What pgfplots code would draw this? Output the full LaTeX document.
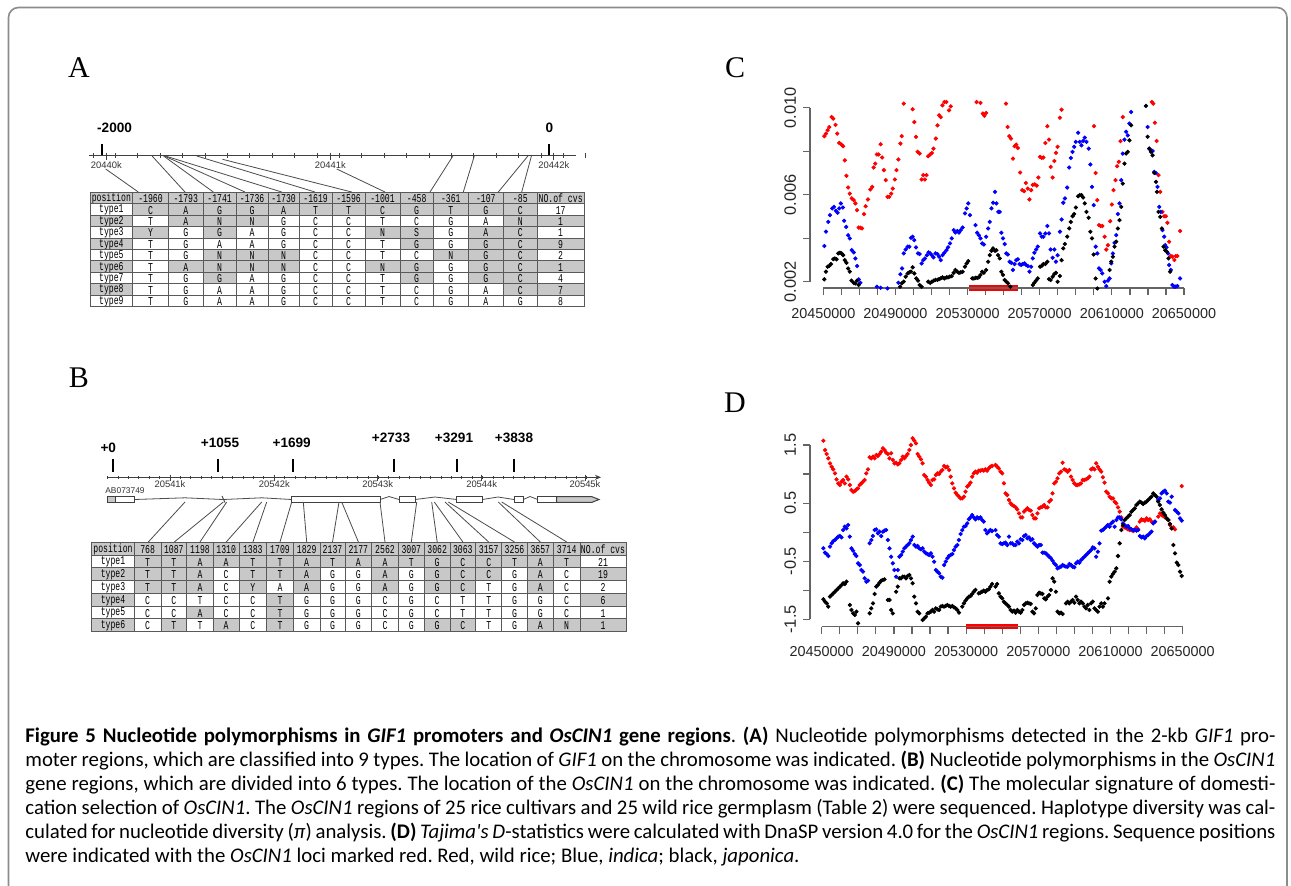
\documentclass[border=0pt]{standalone}
\usepackage{fontspec}
\setmainfont{Liberation Serif}
\newfontfamily\arial{Liberation Sans}
\newfontfamily\mono[FakeStretch=0.68]{Liberation Mono}
\newfontfamily\capfont{Carlito}
\usepackage{pgfplots}
\pgfplotsset{compat=1.18}
\usetikzlibrary{arrows.meta}
\definecolor{gy}{RGB}{200,200,200}
\definecolor{wh}{RGB}{255,255,255}
\definecolor{framegray}{RGB}{140,140,140}
\definecolor{axgray}{RGB}{100,100,100}

\newcommand\tabfontA{\mono\fontsize{6}{6}\selectfont}
\def\AX{{90,132.7,168.3,203.3,236,268.3,299,332.3,365,400,433.3,468.3,503.3,537.3,584}}
\def\BX{{91.7,134.3,161,186.7,213.3,239,266.7,293.3,320,345,371.7,398.3,424.3,450,475.7,501.7,527.3,553.3,580,626}}
\newcommand\Acell[4]{%
  \pgfmathsetmacro\xl{\AX[#1]}%
  \pgfmathsetmacro\xr{\AX[#1+1]}%
  \pgfmathsetmacro\yt{192.3+11.44*#2}%
  \pgfmathsetmacro\yb{\yt+11.44}%
  \fill[#4] (\xl,\yt) rectangle (\xr,\yb);
  \node[font=\tabfontA, inner sep=0pt] at ({(\xl+\xr)/2},{(\yt+\yb)/2+0.6}) {#3};
}
\newcommand\Arow[2]{\foreach \tx/\fl [count=\cc from 0] in {#2} {\Acell{\cc}{#1}{\tx}{\fl}}}
\newcommand\Bcell[4]{%
  \pgfmathsetmacro\xl{\BX[#1]}%
  \pgfmathsetmacro\xr{\BX[#1+1]}%
  \pgfmathsetmacro\yt{542.3+12.77*#2}%
  \pgfmathsetmacro\yb{\yt+12.77}%
  \fill[#4] (\xl,\yt) rectangle (\xr,\yb);
  \node[font=\tabfontA, inner sep=0pt] at ({(\xl+\xr)/2},{(\yt+\yb)/2+0.6}) {#3};
}
\newcommand\Brow[2]{\foreach \tx/\fl [count=\cc from 0] in {#2} {\Bcell{\cc}{#1}{\tx}{\fl}}}

\pgfplotsset{
  rstyle/.style={
    scale only axis, width=190pt,
    axis lines*=left, axis line style={draw=none},
    scaled ticks=false,
    tick align=outside, major tick length=3.5pt,
    tick style={axgray, line width=0.6pt},
    clip=false,
    tick label style={font=\arial\fontsize{7.2}{8}\selectfont, text=black!85},
    yticklabel style={rotate=90, anchor=south, font=\arial\fontsize{8.2}{9}\selectfont},
    xticklabel style={anchor=north, yshift=-3pt},
    xtick={20450000,20460000,20470000,20480000,20490000,20500000,20510000,20520000,20530000,20540000,20550000,20560000,20570000,20580000,20590000,20600000,20610000,20620000,20630000,20640000,20650000},
    xticklabels={20450000,,,,20490000,,,,20530000,,,,20570000,,,,20610000,,,,20650000},
  },
  rdot/.style={only marks, mark=*, mark size=0.85pt, #1, mark options={draw=#1, fill=#1}},
}

\begin{document}
\begin{tikzpicture}
\useasboundingbox (0,0) rectangle (645.5pt,-442.5pt);
\begin{scope}[x=0.5pt,y=-0.5pt]
  \fill[white] (0,0) rectangle (1291,885);
  \draw[framegray, line width=0.8pt, rounded corners=5pt] (8.5,905) -- (8.5,7.5) -- (1287,7.5) -- (1287,905);
  % panel letters
  \node[font=\fontsize{15}{15}\selectfont] at (79,68) {A};
  \node[font=\fontsize{15}{15}\selectfont] at (79,378) {B};
  \node[font=\fontsize{15}{15}\selectfont] at (735,68) {C};
  \node[font=\fontsize{15}{15}\selectfont] at (735,403) {D};

  % ---------------- Panel A ruler
  \node[font=\arial\bfseries\fontsize{6.8}{7}\selectfont] at (114.6,128) {-2000};
  \node[font=\arial\bfseries\fontsize{6.8}{7}\selectfont] at (549.3,128) {0};
  \draw[black, line width=1pt] (102.1,144) -- (102.1,154.6);
  \draw[black, line width=1pt] (548.6,144) -- (548.6,154.6);
  \draw[black!75, line width=0.5pt] (89.3,155.4) -- (576.1,155.4);
  \foreach \k in {-0.6,0.4,...,21.4} \draw[black!75, line width=0.4pt] ({106.4+22.4*\k},153.4) -- ({106.4+22.4*\k},157.6);
  \foreach \xx/\lab in {106.4/20440k,330.4/20441k,553.9/20442k} {
    \draw[black!75, line width=0.5pt] (\xx,152.5) -- (\xx,160);
    \node[font=\arial\fontsize{4.7}{5}\selectfont, text=black!80] at (\xx,165.4) {\lab};
  }
  \foreach \sx/\sy/\ex in {105.7/169/138.3,152.1/156/185,163.6/156/213.3,164.3/156/245,165.4/156/281.7,196.8/156/315,222.5/159.3/351.7,336.8/169/385,452.9/156/430,474.3/156/463.3,527.9/156/498.3,531.4/156/521.7}
    \draw[black!70, line width=0.4pt] (\sx,\sy) -- (\ex,192);
  % ---------------- Table A
  \Arow{0}{position/gy,-1960/gy,-1793/gy,-1741/gy,-1736/gy,-1730/gy,-1619/gy,-1596/gy,-1001/gy,-458/gy,-361/gy,-107/gy,-85/gy,NO.of cvs/gy}
  \Arow{1}{type1/wh,C/gy,A/gy,G/gy,G/gy,A/gy,T/gy,T/gy,C/gy,G/gy,T/gy,G/gy,C/gy,17/wh}
  \Arow{2}{type2/gy,T/wh,A/gy,N/gy,N/gy,G/wh,C/wh,C/wh,T/wh,C/wh,G/wh,A/wh,N/gy,1/gy}
  \Arow{3}{type3/wh,Y/gy,G/wh,G/gy,A/wh,G/wh,C/wh,C/wh,N/gy,S/gy,G/wh,A/gy,C/gy,1/wh}
  \Arow{4}{type4/gy,T/wh,G/wh,A/wh,A/wh,G/wh,C/wh,C/wh,T/wh,G/gy,G/wh,G/gy,C/gy,9/gy}
  \Arow{5}{type5/wh,T/wh,G/wh,N/gy,N/gy,N/gy,C/wh,C/wh,T/wh,C/wh,N/gy,G/gy,C/gy,2/wh}
  \Arow{6}{type6/gy,T/wh,A/gy,N/gy,N/gy,N/gy,C/wh,C/wh,N/gy,G/gy,G/wh,G/gy,C/gy,1/gy}
  \Arow{7}{type7/wh,T/wh,G/wh,G/gy,A/wh,G/wh,C/wh,C/wh,T/wh,G/gy,G/wh,G/gy,C/gy,4/wh}
  \Arow{8}{type8/gy,T/wh,G/wh,A/wh,A/wh,G/wh,C/wh,C/wh,T/wh,C/wh,G/wh,A/wh,C/gy,7/gy}
  \Arow{9}{type9/wh,T/wh,G/wh,A/wh,A/wh,G/wh,C/wh,C/wh,T/wh,C/wh,G/wh,A/wh,G/wh,8/wh}
  \foreach \r in {0,...,10} \draw[black!65, line width=0.45pt] (90,{192.3+11.44*\r}) -- (584,{192.3+11.44*\r});
  \foreach \c in {0,...,14} {\pgfmathsetmacro\xx{\AX[\c]} \draw[black!65, line width=0.45pt] (\xx,192.3) -- (\xx,306.7);}

  % ---------------- Panel B ruler
  \foreach \lx/\ly/\tx/\lab in {108.3/448.3/113.3/+0,220/443.3/217.7/+1055,291.7/443.3/293.3/+1699,391/438.3/394/+2733,454/438.3/457.3/+3291,514/438.3/514/+3838} {
    \node[font=\arial\bfseries\fontsize{6.8}{7}\selectfont] at (\lx,\ly) {\lab};
    \draw[black, line width=1pt] (\tx,459) -- (\tx,472.3);
  }
  \draw[black!75, line width=0.5pt, -{Stealth[length=3pt,width=2.5pt]}] (106.7,477.3) -- (601,477.3);
  \foreach \k in {-6,...,40} \draw[black!75, line width=0.4pt] ({170+10.42*\k},475.8) -- ({170+10.42*\k},478.8);
  \foreach \xx/\lab in {170/20541k,274.3/20542k,377.7/20543k,481.7/20544k,585/20545k} {
    \draw[black!75, line width=0.5pt] (\xx,474.5) -- (\xx,480.5);
    \node[font=\arial\fontsize{4.7}{5}\selectfont, text=black!80] at (\xx,484.5) {\lab};
  }
  \node[font=\arial\fontsize{4.2}{4.5}\selectfont, text=black!80] at (125,491) {AB073749};
  % gene model
  \draw[black!70, line width=0.4pt] (134.3,499.5) -- (185,497.8) -- (223,499.5) -- (262,497.8) -- (291.7,499.5);
  \draw[black!70, line width=0.4pt] (380,499.5) -- (389,496.5) -- (399,499.5);
  \draw[black!70, line width=0.4pt] (415,499.5) -- (435,497) -- (456.7,499.5);
  \draw[black!70, line width=0.4pt] (482.3,499.5) -- (498,497) -- (514,499.5);
  \draw[black!70, line width=0.4pt] (523.3,499.5) -- (530,496.5) -- (537.7,499.5);
  \draw[black!70, line width=0.5pt] (222,496) -- (225,502.5);
  \draw[black!75, line width=0.5pt, fill=white] (107.7,496.7) rectangle (134.3,502.3);
  \draw[black!75, line width=0.5pt, fill=gy] (107.7,496.7) rectangle (115,502.3);
  \draw[black!75, line width=0.5pt, fill=white] (291.7,496.7) rectangle (380,502.3);
  \draw[black!75, line width=0.5pt, fill=white] (399,496.7) rectangle (415,502.3);
  \draw[black!75, line width=0.5pt, fill=white] (456.7,496.7) rectangle (482.3,502.3);
  \draw[black!75, line width=0.5pt, fill=white] (514,496.7) rectangle (523.3,502.3);
  \draw[black!75, line width=0.5pt, fill=white] (537.7,496.7) rectangle (556.7,502.3);
  \draw[black!75, line width=0.5pt, fill=gy] (556.7,496.7) -- (592,496.7) -- (599,499.5) -- (592,502.3) -- (556.7,502.3) -- cycle;
  \foreach \sx/\ex in {185/148.3,223.3/174.3,226.7/200,261.7/226.2,266.7/252.9,291.7/280,303.3/306.7,339/332.5,341.7/358.4,380/385,416.7/411.3,431.7/437.2,434.3/462.9,445/488.7,448.3/514.5,498.3/540.3,501.7/566.7}
    \draw[black!70, line width=0.4pt] (\sx,502) -- (\ex,542);
  % ---------------- Table B
  \Brow{0}{position/gy,768/gy,1087/gy,1198/gy,1310/gy,1383/gy,1709/gy,1829/gy,2137/gy,2177/gy,2562/gy,3007/gy,3062/gy,3063/gy,3157/gy,3256/gy,3657/gy,3714/gy,NO.of cvs/gy}
  \Brow{1}{type1/wh,T/gy,T/gy,A/gy,A/gy,T/gy,T/gy,A/gy,T/gy,A/gy,A/gy,T/gy,G/gy,C/gy,C/gy,T/gy,A/gy,T/gy,21/wh}
  \Brow{2}{type2/gy,T/gy,T/gy,A/gy,C/wh,T/gy,T/gy,A/gy,G/wh,G/wh,A/gy,G/wh,G/gy,C/gy,C/gy,G/wh,A/gy,C/wh,19/gy}
  \Brow{3}{type3/wh,T/gy,T/gy,A/gy,C/wh,Y/gy,A/wh,A/gy,G/wh,G/wh,A/gy,G/wh,G/gy,C/gy,T/wh,G/wh,A/gy,C/wh,2/wh}
  \Brow{4}{type4/gy,C/wh,C/wh,T/wh,C/wh,C/wh,T/gy,G/wh,G/wh,G/wh,C/wh,G/wh,C/wh,T/wh,T/wh,G/wh,G/wh,C/wh,6/gy}
  \Brow{5}{type5/wh,C/wh,C/wh,A/gy,C/wh,C/wh,T/gy,G/wh,G/wh,G/wh,C/wh,G/wh,C/wh,T/wh,T/wh,G/wh,G/wh,C/wh,1/wh}
  \Brow{6}{type6/gy,C/wh,T/gy,T/wh,A/gy,C/wh,T/gy,G/wh,G/wh,G/wh,C/wh,G/wh,G/gy,C/gy,T/wh,G/wh,A/gy,N/gy,1/gy}
  \foreach \r in {0,...,7} \draw[black!65, line width=0.45pt] (91.7,{542.3+12.77*\r}) -- (626,{542.3+12.77*\r});
  \foreach \c in {0,...,19} {\pgfmathsetmacro\xx{\BX[\c]} \draw[black!65, line width=0.45pt] (\xx,542.3) -- (\xx,631.7);}

  % ---------------- caption
  \begin{scope}[every node/.style={anchor=base west, inner sep=0pt, font=\capfont\fontsize{10.4}{12}\selectfont\frenchspacing}]
  \node at (25,742) {\makebox[625pt][s]{\textbf{Figure 5 Nucleotide polymorphisms in \textit{GIF1} promoters and \textit{OsCIN1} gene regions}. \textbf{(A)} Nucleotide polymorphisms detected in the 2-kb \textit{GIF1} pro-}};
  \node at (25,766) {\makebox[625pt][s]{moter regions, which are classified into 9 types. The location of \textit{GIF1} on the chromosome was indicated. \textbf{(B)} Nucleotide polymorphisms in the \textit{OsCIN1}}};
  \node at (25,790) {\makebox[625pt][s]{gene regions, which are divided into 6 types. The location of the \textit{OsCIN1} on the chromosome was indicated. \textbf{(C)} The molecular signature of domesti-}};
  \node at (25,814) {\makebox[625pt][s]{cation selection of \textit{OsCIN1}. The \textit{OsCIN1} regions of 25 rice cultivars and 25 wild rice germplasm (Table 2) were sequenced. Haplotype diversity was cal-}};
  \node at (25,838) {\makebox[625pt][s]{culated for nucleotide diversity (\textit{π}) analysis. \textbf{(D)} \textit{Tajima's D}-statistics were calculated with DnaSP version 4.0 for the \textit{OsCIN1} regions. Sequence positions}};
  \node at (25,862) {were indicated with the \textit{OsCIN1} loci marked red. Red, wild rice; Blue, \textit{indica}; black, \textit{japonica}.};
  \end{scope}
\end{scope}

% ================= Panel C
\begin{axis}[rstyle, at={(405pt,-144pt)}, anchor=south west, height=94.5pt,
  xmin=20442625, xmax=20653330, ymin=0.00171, ymax=0.0104,
  ytick={0.002,0.004,0.006,0.008,0.010}, yticklabels={0.002,,0.006,,0.010}]
\addplot[rdot=red] table {
20450550 0.00869
20451470 0.00881
20452390 0.00896
20453300 0.00911
20454590 0.00957
20455500 0.00950
20456790 0.00921
20457710 0.00881
20458810 0.00838
20460090 0.00830
20461010 0.00823
20461930 0.00758
20462850 0.00687
20463760 0.00633
20464680 0.00605
20465780 0.00583
20466880 0.00575
20467800 0.00560
20468720 0.00529
20469630 0.00449
20470550 0.00448
20471470 0.00445
20472570 0.00511
20473490 0.00547
20474770 0.00578
20476060 0.00624
20477160 0.00636
20477890 0.00725
20478810 0.00743
20479730 0.00785
20480640 0.00785
20481750 0.00832
20482660 0.00771
20483580 0.00713
20484680 0.00667
20485600 0.00590
20486520 0.00590
20487620 0.00605
20488540 0.00628
20489640 0.00670
20490550 0.00713
20491650 0.00762
20492750 0.00835
20493490 0.00869
20494590 0.01019
20499540 0.00993
20500460 0.00934
20501380 0.00866
20502300 0.00797
20503400 0.00789
20504500 0.00670
20505420 0.00690
20506330 0.00670
20507250 0.00690
20508170 0.00777
20509270 0.00785
20510190 0.00792
20511100 0.00812
20512390 0.00858
20513310 0.00919
20514220 0.00965
20515140 0.00957
20516060 0.01011
20517160 0.01026
20518260 0.01026
20519730 0.00988
20520650 0.01006
20534960 0.01026
20537160 0.01022
20538450 0.00973
20539360 0.00963
20540280 0.00976
20551290 0.01019
20552210 0.00911
20553130 0.00869
20554040 0.00858
20555150 0.00766
20556060 0.00823
20556980 0.00830
20557900 0.00815
20559180 0.00702
20560280 0.00621
20561380 0.00616
20562300 0.00654
20563400 0.00628
20564320 0.00578
20565240 0.00621
20566160 0.00645
20567260 0.00647
20568360 0.00642
20569280 0.00679
20570190 0.00774
20571110 0.00769
20572030 0.00771
20573130 0.00838
20574230 0.00915
20575150 0.00853
20576060 0.00728
20577170 0.00679
20578080 0.00755
20579000 0.00792
20579920 0.00820
20581200 0.00954
20582120 0.00991
20600100 0.00915
20601020 0.00700
20601940 0.00575
20602860 0.00460
20603770 0.00456
20604690 0.00456
20605980 0.00407
20606890 0.00348
20607810 0.00368
20609100 0.00478
20610010 0.00555
20610930 0.00621
20612030 0.00667
20612950 0.00731
20613870 0.00751
20614780 0.00846
20616070 0.00957
20632220 0.01026
20632950 0.01019
20633870 0.00931
20634790 0.00847
20635890 0.00690
20636800 0.00613
20638090 0.00521
20639010 0.00501
20639920 0.00501
20640840 0.00471
20641760 0.00384
20642680 0.00318
20643590 0.00315
20644690 0.00300
20645430 0.00318
20646350 0.00318
20647810 0.00433
};
\addplot[rdot=blue] table {
20450550 0.00364
20451470 0.00430
20452750 0.00475
20453670 0.00506
20454950 0.00537
20455870 0.00544
20456970 0.00526
20457890 0.00517
20458810 0.00537
20459730 0.00560
20460830 0.00541
20461560 0.00480
20462660 0.00452
20463760 0.00414
20464680 0.00399
20465780 0.00345
20466880 0.00335
20467800 0.00307
20468720 0.00272
20469630 0.00211
20470550 0.00195
20479730 0.00177
20481750 0.00172
20485600 0.00169
20491650 0.00195
20492750 0.00234
20493670 0.00261
20494590 0.00330
20495690 0.00348
20496790 0.00361
20497710 0.00361
20498630 0.00402
20499540 0.00407
20500460 0.00391
20501380 0.00358
20502480 0.00330
20503400 0.00327
20504500 0.00284
20505420 0.00299
20506330 0.00307
20507440 0.00322
20508350 0.00335
20509270 0.00330
20510190 0.00322
20511100 0.00312
20512210 0.00330
20513310 0.00327
20514220 0.00315
20515140 0.00299
20516060 0.00322
20517160 0.00333
20518260 0.00345
20519180 0.00358
20520280 0.00376
20521200 0.00399
20522300 0.00437
20523220 0.00426
20524320 0.00433
20525240 0.00426
20526150 0.00437
20527250 0.00449
20528540 0.00514
20529460 0.00537
20530370 0.00560
20531290 0.00506
20534410 0.00460
20535330 0.00425
20536250 0.00414
20537160 0.00399
20538080 0.00376
20539000 0.00371
20540280 0.00407
20541380 0.00445
20542300 0.00475
20543220 0.00537
20544140 0.00563
20545240 0.00613
20545970 0.00560
20547070 0.00521
20547810 0.00521
20548720 0.00425
20549640 0.00399
20550560 0.00373
20551480 0.00330
20552390 0.00325
20553310 0.00292
20554230 0.00287
20555150 0.00254
20556060 0.00281
20556980 0.00299
20557900 0.00303
20558820 0.00281
20559730 0.00277
20560650 0.00281
20561570 0.00284
20562490 0.00277
20563400 0.00272
20564320 0.00246
20565240 0.00269
20566160 0.00307
20567070 0.00333
20567990 0.00348
20568910 0.00361
20570190 0.00422
20571110 0.00407
20572030 0.00407
20573130 0.00422
20574230 0.00456
20575150 0.00422
20576060 0.00348
20577170 0.00310
20578080 0.00348
20579000 0.00292
20579920 0.00322
20581200 0.00430
20582120 0.00486
20583040 0.00563
20583960 0.00583
20585240 0.00633
20586340 0.00725
20587260 0.00769
20588180 0.00797
20589090 0.00820
20590010 0.00843
20591300 0.00885
20592210 0.00843
20593130 0.00827
20594050 0.00847
20594970 0.00862
20595880 0.00843
20597170 0.00812
20598080 0.00739
20599000 0.00636
20599920 0.00552
20601020 0.00361
20601940 0.00330
20602860 0.00261
20603770 0.00254
20604690 0.00238
20605980 0.00200
20606890 0.00180
20607810 0.00205
20608730 0.00215
20609650 0.00284
20610560 0.00330
20611480 0.00379
20612400 0.00414
20613320 0.00511
20614230 0.00560
20615150 0.00667
20616070 0.00789
20616990 0.00853
20617900 0.00889
20618820 0.00873
20619740 0.00927
20620660 0.00980
20629830 0.00911
20630750 0.00812
20631670 0.00804
20632580 0.00801
20633500 0.00705
20634420 0.00700
20635340 0.00636
20636250 0.00544
20637170 0.00521
20638090 0.00437
20639010 0.00407
20639560 0.00368
20640290 0.00358
20641210 0.00330
20641760 0.00277
20642680 0.00254
20643590 0.00185
20644510 0.00177
20645430 0.00177
20646350 0.00180
20647810 0.00215
};
\addplot[rdot=black] table {
20450550 0.00211
20451470 0.00246
20452390 0.00269
20453300 0.00273
20454220 0.00281
20455500 0.00304
20456420 0.00307
20457340 0.00303
20458260 0.00330
20459180 0.00333
20460090 0.00330
20461010 0.00322
20461930 0.00299
20462850 0.00287
20463760 0.00261
20464680 0.00246
20465600 0.00205
20466880 0.00195
20467800 0.00192
20468720 0.00205
20469630 0.00185
20492570 0.00177
20493490 0.00192
20494590 0.00200
20495690 0.00223
20496790 0.00238
20497710 0.00243
20498630 0.00246
20499540 0.00266
20500460 0.00238
20501560 0.00215
20502480 0.00205
20503400 0.00185
20504500 0.00177
20508170 0.00200
20509270 0.00195
20510190 0.00200
20511290 0.00205
20512210 0.00208
20513310 0.00208
20514220 0.00212
20515140 0.00215
20516060 0.00220
20517160 0.00215
20518260 0.00220
20519180 0.00220
20520100 0.00223
20521200 0.00226
20522300 0.00241
20523220 0.00254
20524320 0.00246
20525240 0.00241
20526150 0.00243
20527250 0.00246
20528540 0.00269
20529460 0.00284
20530370 0.00295
20532580 0.00215
20533490 0.00215
20534410 0.00218
20535330 0.00218
20536250 0.00220
20537160 0.00231
20538080 0.00246
20539000 0.00241
20540280 0.00254
20541380 0.00292
20542300 0.00322
20543220 0.00342
20544140 0.00353
20545240 0.00342
20545970 0.00345
20546890 0.00322
20547810 0.00307
20548720 0.00246
20549640 0.00231
20550560 0.00208
20551480 0.00200
20552390 0.00192
20553680 0.00177
20566160 0.00185
20567070 0.00195
20567990 0.00205
20568910 0.00215
20570190 0.00269
20571110 0.00273
20572030 0.00281
20573130 0.00281
20574230 0.00292
20575150 0.00212
20576060 0.00208
20577170 0.00223
20578080 0.00235
20579000 0.00241
20579920 0.00200
20581200 0.00226
20582120 0.00299
20583040 0.00353
20583960 0.00373
20585240 0.00407
20586340 0.00445
20587260 0.00475
20588180 0.00501
20589090 0.00511
20590010 0.00541
20591300 0.00593
20592210 0.00598
20593130 0.00598
20594050 0.00587
20594970 0.00560
20595880 0.00521
20597170 0.00494
20598080 0.00430
20599000 0.00399
20599920 0.00325
20601020 0.00215
20601940 0.00169
20608730 0.00254
20609650 0.00292
20610560 0.00315
20611480 0.00361
20612400 0.00384
20613320 0.00445
20614230 0.00483
20615150 0.00544
20616070 0.00651
20616990 0.00743
20617900 0.00789
20618820 0.00797
20619740 0.00850
20620660 0.00919
20628910 0.01008
20629830 0.00866
20630750 0.00812
20631670 0.00797
20632580 0.00781
20633500 0.00700
20634420 0.00659
20634970 0.00613
20635890 0.00521
20636800 0.00498
20637720 0.00445
20638640 0.00361
20639560 0.00345
20640470 0.00338
20641390 0.00307
20642310 0.00246
};
\addplot[red, line width=2.6pt] coordinates {(20531000,0.00171) (20558000,0.00171)};
\draw[axgray, line width=0.6pt] (axis cs:20442625,0.002) -- (axis cs:20442625,0.010);
\draw[axgray, line width=0.6pt] (axis cs:20450000,0.00171) -- (axis cs:20650000,0.00171);
\end{axis}

% ================= Panel D
\begin{axis}[rstyle, at={(405pt,-313.35pt)}, anchor=south west, height=95.35pt,
  xmin=20443520, xmax=20654040, ymin=-1.627, ymax=1.655,
  ytick={-1.5,-1,-0.5,0,0.5,1,1.5}, yticklabels={-1.5,,-0.5,,0.5,,1.5}]
\addplot[rdot=red] table {
20450920 1.575
20451830 1.414
20452750 1.345
20453660 1.271
20454580 1.185
20455500 1.127
20456410 1.081
20457330 1.012
20458240 0.909
20459160 0.840
20460080 0.812
20460990 0.869
20461910 0.898
20462820 0.840
20463740 0.955
20464660 0.909
20465570 0.812
20466490 0.726
20467400 0.697
20468320 0.708
20469240 0.737
20470150 0.754
20471070 0.812
20471980 0.840
20472900 0.869
20473820 0.898
20474730 1.012
20475650 1.081
20476560 1.288
20477480 1.271
20478400 1.299
20479310 1.271
20480230 1.328
20481140 1.311
20482060 1.345
20482980 1.385
20483890 1.443
20484810 1.414
20485720 1.368
20486640 1.345
20487560 1.271
20488470 1.357
20489390 1.242
20490300 1.185
20491220 1.196
20492140 1.167
20493050 1.185
20493970 1.242
20494880 1.299
20495800 1.271
20496720 1.311
20497630 1.345
20498550 1.414
20499460 1.500
20500380 1.615
20501300 1.575
20502210 1.529
20503130 1.345
20504040 1.299
20504960 1.253
20505880 1.185
20506790 0.984
20507710 0.955
20508620 0.898
20509540 0.852
20510460 0.812
20511370 0.898
20512290 0.909
20513200 0.984
20514120 1.012
20515040 1.001
20515950 1.041
20516870 1.070
20517780 1.139
20518700 1.116
20519620 1.127
20520530 1.070
20521450 0.955
20522360 0.840
20523280 0.754
20524200 0.680
20525110 0.640
20526030 0.611
20526940 0.582
20527860 0.582
20528780 0.611
20529690 0.697
20530610 0.783
20531520 0.812
20532440 0.852
20533360 0.955
20534270 1.012
20535190 1.041
20536100 1.024
20537020 1.058
20537940 1.058
20538850 1.070
20539770 1.058
20540680 1.081
20541600 1.058
20542520 1.098
20543430 1.127
20544350 1.139
20546280 1.156
20547210 1.127
20548140 1.098
20549070 1.041
20550000 1.012
20550930 0.840
20551860 0.668
20552790 0.640
20553720 0.554
20554650 0.496
20555580 0.467
20556510 0.450
20557440 0.427
20558370 0.393
20559300 0.324
20560220 0.255
20561150 0.255
20562080 0.353
20563010 0.381
20563940 0.410
20564870 0.381
20565800 0.370
20566730 0.295
20567660 0.238
20568590 0.238
20569520 0.324
20570450 0.410
20571380 0.427
20572310 0.439
20573240 0.467
20574170 0.427
20575100 0.427
20576030 0.525
20576960 0.554
20577890 0.668
20578810 0.840
20579740 0.869
20580670 0.926
20581600 1.012
20582530 1.041
20583460 1.196
20584390 1.081
20585320 1.070
20586250 1.041
20587180 1.070
20588110 0.955
20589040 0.898
20589970 0.840
20590900 0.812
20591830 0.812
20592760 0.823
20593690 0.840
20594620 0.898
20595550 0.898
20596480 0.909
20597400 0.926
20598330 0.955
20599260 1.081
20600190 1.098
20601120 1.081
20602050 1.185
20602980 1.127
20603910 1.081
20604840 1.041
20605770 0.944
20606700 0.852
20607630 0.697
20608560 0.668
20609490 0.611
20610420 0.582
20611350 0.582
20612280 0.525
20613210 0.496
20614140 0.427
20615070 0.353
20615990 0.255
20616920 0.095
20617850 0.083
20618780 0.066
20619710 0.049
20620640 0.037
20621570 0.037
20622500 0.020
20623430 0.037
20624360 0.083
20625290 0.050
20626220 0.181
20627150 0.221
20628080 0.209
20629010 0.198
20629940 0.238
20630870 0.209
20631800 0.221
20632730 0.181
20633660 0.164
20634590 0.181
20636440 0.267
20637370 0.324
20638300 0.295
20639230 0.278
20640160 0.255
20641090 0.238
20642020 0.209
20642950 0.123
20643880 0.066
20644810 0.083
20645740 0.049
20649460 0.794
};
\addplot[rdot=blue] table {
20450920 -0.278
20451830 -0.353
20452750 -0.376
20453660 -0.410
20454580 -0.249
20455500 -0.192
20456410 -0.152
20457330 -0.135
20458240 -0.106
20459160 -0.077
20460080 -0.066
20460990 -0.089
20461910 0.037
20462820 0.095
20463740 0.066
20464660 0.123
20465570 -0.077
20466490 -0.278
20467400 -0.318
20468320 -0.376
20469240 -0.410
20470150 -0.536
20471070 -0.565
20471980 -0.651
20472900 -0.680
20473820 -0.794
20474730 -0.852
20475650 -0.835
20476560 -0.192
20477480 -0.135
20478400 -0.066
20479310 0.037
20480230 0.049
20481140 -0.020
20482060 0.009
20482980 -0.066
20483890 0.009
20484810 0.026
20485720 0.037
20486640 -0.135
20487560 -0.278
20488470 -0.422
20489390 -0.536
20490300 -0.651
20491220 -0.766
20492140 -0.651
20493050 -0.422
20493970 -0.393
20494880 -0.336
20495800 -0.278
20496720 -0.249
20497630 -0.221
20498550 -0.192
20499460 -0.135
20500380 -0.077
20501300 -0.221
20502210 -0.249
20503130 -0.238
20504040 -0.278
20504960 -0.295
20505880 -0.278
20506790 -0.336
20507710 -0.364
20508620 -0.376
20509540 -0.393
20510460 -0.364
20511370 -0.422
20512290 -0.508
20513200 -0.651
20514120 -0.680
20515040 -0.708
20515950 -0.766
20516870 -0.783
20517780 -0.565
20518700 -0.508
20519620 -0.450
20520530 -0.410
20521450 -0.393
20522360 -0.376
20523280 -0.307
20524200 -0.249
20525110 -0.221
20526030 -0.135
20526940 -0.032
20527860 0.037
20528780 0.095
20529690 0.106
20530610 0.152
20531520 0.221
20532440 0.255
20533360 0.295
20534270 0.255
20535190 0.221
20536100 0.255
20537020 0.238
20537940 0.255
20538850 0.209
20539770 0.181
20540680 0.037
20541600 -0.020
20542520 0.009
20543430 0.037
20544350 0.020
20546280 0.037
20547210 -0.049
20548140 -0.077
20549070 -0.192
20550000 -0.204
20550930 -0.192
20551860 -0.181
20552790 -0.221
20553720 -0.077
20554650 -0.192
20555580 -0.192
20556510 -0.221
20557440 -0.221
20558370 -0.163
20559300 -0.192
20560220 -0.123
20561150 -0.135
20562080 -0.066
20563010 -0.049
20563940 -0.106
20564870 -0.089
20565800 -0.135
20566730 -0.123
20567660 -0.192
20568590 -0.221
20569520 -0.249
20570450 -0.221
20571380 -0.221
20572310 -0.353
20573240 -0.353
20574170 -0.364
20575100 -0.393
20576030 -0.422
20576960 -0.450
20577890 -0.490
20578810 -0.536
20579740 -0.565
20580670 -0.622
20581600 -0.605
20582530 -0.594
20583460 -0.565
20584390 -0.582
20585320 -0.594
20586250 -0.594
20587180 -0.548
20588110 -0.565
20589040 -0.594
20589970 -0.605
20590900 -0.536
20591830 -0.508
20592760 -0.525
20593690 -0.479
20594620 -0.450
20595550 -0.422
20596480 -0.393
20597400 -0.364
20598330 -0.336
20599260 -0.307
20600190 -0.261
20601120 -0.278
20602050 -0.422
20602980 -0.336
20603910 -0.192
20604840 0.026
20605770 0.037
20606700 0.066
20607630 0.095
20608560 0.123
20609490 0.095
20610420 0.152
20611350 0.181
20612280 0.095
20613210 0.209
20614140 0.255
20615070 0.255
20615990 0.221
20616920 0.152
20617850 0.123
20618780 0.095
20619710 0.106
20620640 0.066
20621570 0.049
20622500 0.037
20623430 0.037
20624360 0.026
20625290 0.037
20626220 -0.066
20627150 -0.089
20628080 -0.077
20629010 -0.106
20629940 -0.066
20630870 -0.049
20631800 -0.020
20632730 0.009
20633660 0.152
20634590 0.181
20636440 0.554
20637370 0.582
20638300 0.668
20639230 0.697
20640160 0.714
20641090 0.668
20642020 0.525
20642950 0.508
20643880 0.611
20645740 0.381
20646670 0.353
20647600 0.324
20648530 0.238
20649460 0.198
};
\addplot[rdot=black] table {
20450920 -1.156
20451830 -1.196
20452750 -1.225
20453660 -1.282
20454580 -1.110
20455500 -1.081
20456410 -1.053
20457330 -1.024
20458240 -0.995
20459160 -0.966
20460080 -0.938
20460990 -0.909
20461910 -0.880
20462820 -0.892
20463740 -0.852
20465570 -1.253
20466490 -1.339
20467400 -1.397
20468320 -1.425
20469240 -1.368
20470150 -1.569
20476560 -1.397
20477480 -1.311
20478400 -1.225
20479310 -1.064
20480230 -0.938
20481140 -0.909
20482060 -0.869
20482980 -0.835
20483890 -0.823
20484810 -0.812
20486640 -1.167
20487560 -1.167
20488470 -1.339
20489390 -1.397
20491220 -1.024
20492140 -0.938
20493050 -0.794
20493970 -0.794
20494880 -0.766
20495800 -0.766
20496720 -0.794
20497630 -0.754
20498550 -0.737
20499460 -0.794
20500380 -0.880
20501300 -1.110
20502210 -1.225
20503130 -1.368
20504040 -1.397
20505880 -1.511
20506790 -1.483
20507710 -1.454
20508620 -1.397
20509540 -1.385
20510460 -1.368
20511370 -1.339
20512290 -1.368
20513200 -1.311
20514120 -1.328
20515040 -1.339
20515950 -1.282
20516870 -1.270
20517780 -1.282
20518700 -1.270
20519620 -1.253
20520530 -1.270
20521450 -1.282
20522360 -1.270
20523280 -1.293
20524200 -1.311
20525110 -1.339
20526030 -1.385
20527860 -1.282
20528780 -1.225
20529690 -1.179
20530610 -1.139
20531520 -1.110
20532440 -1.098
20533360 -1.064
20534270 -1.024
20535190 -0.995
20537020 -1.053
20537940 -1.041
20538850 -1.024
20539770 -1.007
20540680 -1.024
20541600 -0.995
20542520 -0.984
20543430 -0.938
20544350 -0.892
20546280 -0.938
20547210 -0.892
20548140 -1.053
20549070 -1.110
20550000 -1.139
20550930 -1.196
20551860 -1.225
20552790 -1.253
20553720 -1.282
20554650 -1.339
20555580 -1.368
20556510 -1.351
20557440 -1.385
20558370 -1.339
20559300 -1.368
20560220 -1.385
20561150 -1.339
20562080 -1.253
20563010 -1.225
20563940 -1.213
20564870 -1.225
20565800 -1.236
20566730 -1.368
20567660 -1.397
20568590 -1.311
20569520 -1.081
20570450 -1.041
20571380 -1.053
20572310 -1.064
20573240 -1.139
20574170 -1.156
20575100 -1.110
20576030 -1.081
20576960 -0.995
20577890 -0.794
20578810 -0.852
20579740 -1.024
20580670 -1.368
20581600 -1.397
20582530 -1.385
20583460 -1.408
20585320 -1.225
20586250 -1.196
20587180 -1.225
20588110 -1.196
20589040 -1.167
20589970 -1.213
20590900 -1.110
20591830 -1.167
20592760 -1.225
20593690 -1.196
20594620 -1.225
20595550 -1.282
20596480 -1.311
20597400 -1.253
20598330 -1.339
20599260 -1.225
20600190 -1.196
20601120 -1.311
20602050 -1.339
20602980 -1.368
20603910 -1.282
20604840 -1.225
20605770 -1.282
20606700 -1.225
20608560 -1.139
20609490 -0.852
20610420 -0.766
20611350 -0.720
20612280 -0.680
20613210 -0.622
20614140 -0.410
20615070 -0.192
20615990 0.037
20616920 0.123
20617850 0.209
20618780 0.238
20619710 0.267
20620640 0.295
20621570 0.353
20622500 0.381
20623430 0.410
20624360 0.467
20625290 0.496
20626220 0.525
20627150 0.508
20628080 0.485
20629010 0.508
20629940 0.525
20630870 0.554
20631800 0.582
20632730 0.611
20633660 0.668
20634590 0.640
20635510 0.611
20636440 0.525
20637370 0.467
20638300 0.393
20639230 0.336
20640160 0.295
20641090 0.238
20642020 0.209
20642950 0.141
20643880 0.066
20644810 -0.221
20645740 -0.364
20646670 -0.525
20647600 -0.565
20648530 -0.680
20649460 -0.754
};
\addplot[red, line width=2.6pt] coordinates {(20530000,-1.627) (20559000,-1.627)};
\draw[axgray, line width=0.6pt] (axis cs:20443520,-1.5) -- (axis cs:20443520,1.5);
\draw[axgray, line width=0.6pt] (axis cs:20450000,-1.627) -- (axis cs:20650000,-1.627);
\end{axis}
\end{tikzpicture}
\end{document}
